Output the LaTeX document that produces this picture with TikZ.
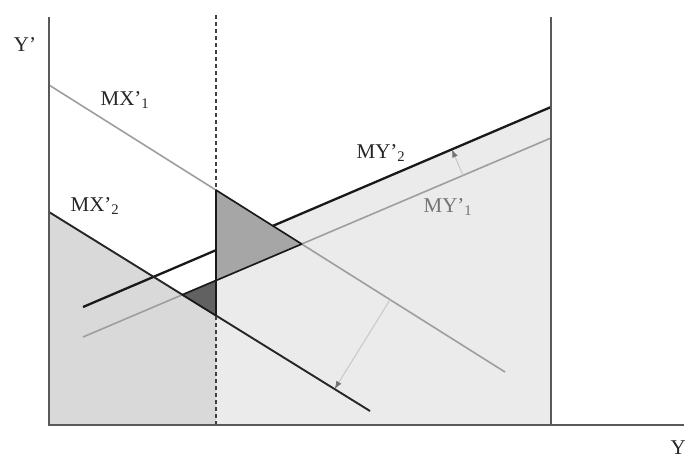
\documentclass[tikz,border=0pt]{standalone}
\usepackage{fontspec}
\setmainfont{Liberation Serif}
\usetikzlibrary{calc,arrows.meta}
\begin{document}
\begin{tikzpicture}[x=1pt,y=-1pt,
  lbl/.style={font=\fontsize{21}{23}\selectfont, inner sep=0pt, text=black!85},
  axisline/.style={draw=black!65, line width=2pt},
  lightline/.style={draw=black!38, line width=1.6pt},
  darkline/.style={draw=black!85, line width=1.9pt},
  darkerline/.style={draw=black!90, line width=2.3pt},
  dashline/.style={draw=black!75, line width=1.5pt, dash pattern=on 4pt off 3pt},
  leftfill/.style={fill=black!15},
  rightfill/.style={fill=black!8},
  bigtri/.style={fill=black!35, draw=black!90, line width=1.6pt, line join=round},
  smalltri/.style={fill=black!62, draw=black!90, line width=1.6pt, line join=round},
  shiftarrow/.style={draw=black!22, line width=1pt, -{Latex[length=8pt,width=6pt,fill=black!55,color=black!55]}}
]
\useasboundingbox (0,0) rectangle (691,459);
% base coordinates
\coordinate (A1) at (49,85);   \coordinate (A2) at (505,372);
\coordinate (B1) at (49,212);  \coordinate (B2) at (370,411);
\coordinate (C1) at (83,307);  \coordinate (C2) at (551,107);
\coordinate (D1) at (83,337);  \coordinate (D2) at (551,138);
\coordinate (E1) at (216,15);  \coordinate (E2) at (216,425);
\coordinate (O) at (49,425);   \coordinate (YT) at (49,17);
\coordinate (XR) at (684,425);
\coordinate (RT) at (551,17);  \coordinate (RB) at (551,425);
% intersections
\coordinate (P1) at (intersection of A1--A2 and E1--E2);
\coordinate (P2) at (intersection of A1--A2 and D1--D2);
\coordinate (P3) at (intersection of D1--D2 and E1--E2);
\coordinate (Q2) at (intersection of B1--B2 and E1--E2);
\coordinate (Q3) at (intersection of B1--B2 and D1--D2);
\coordinate (C0) at (intersection of C1--C2 and E1--E2);
% shaded regions
\fill[leftfill] (B1) -- (Q2) -- (E2) -- (O) -- cycle;
\fill[rightfill] (C0) -- (C2) -- (RB) -- (E2) -- cycle;
% curves
\draw[lightline] (A1) -- (A2);
\draw[lightline] (D1) -- (D2);
\draw[darkerline] (C1) -- (C2);
\draw[darkline] (B1) -- (B2);
\draw[dashline] (E1) -- (E2);
% triangles
\filldraw[bigtri] (P1) -- (P2) -- (P3) -- cycle;
\filldraw[smalltri] (P3) -- (Q3) -- (Q2) -- cycle;
% axes
\draw[axisline] (YT) -- (O) -- (XR);
\draw[axisline] (RT) -- (RB);
% shift arrows
\coordinate (S1) at ($(D1)!0.812!(D2)$);
\coordinate (T1) at ($(C1)!(S1)!(C2)$);
\coordinate (S2) at ($(A1)!0.748!(A2)$);
\coordinate (T2) at ($(B1)!(S2)!(B2)$);
\draw[shiftarrow] (S1) -- (T1);
\draw[shiftarrow] (S2) -- (T2);
% labels
\node[lbl] (lYp) at (25,45) {Y’};
\node[lbl] (lMX1) at (125,100) {MX’\textsubscript{1}};
\node[lbl] (lMX2) at (95,206) {MX’\textsubscript{2}};
\node[lbl] (lMY2) at (381,153) {MY’\textsubscript{2}};
\node[lbl, text=black!55] (lMY1) at (448,207) {MY’\textsubscript{1}};
\node[lbl, anchor=east] (lY) at (686,448) {Y};
\end{tikzpicture}
\end{document}
